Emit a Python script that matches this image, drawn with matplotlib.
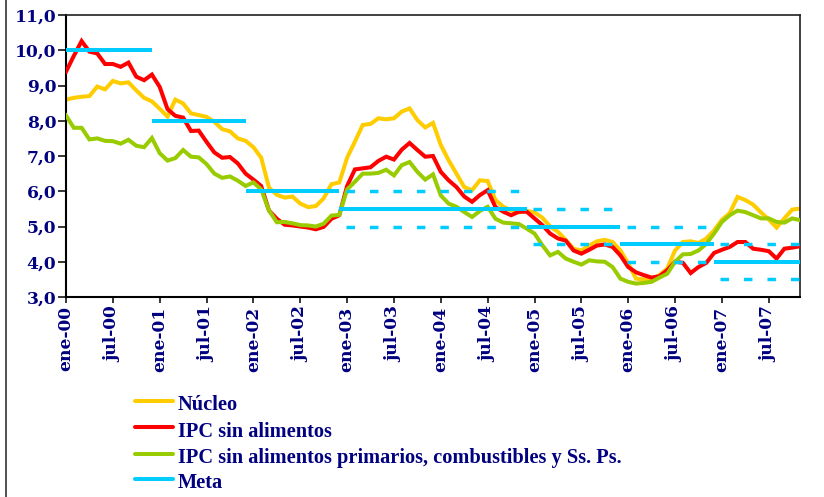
import matplotlib
matplotlib.use("Agg")
import matplotlib.pyplot as plt
from matplotlib.lines import Line2D
import matplotlib.transforms as mtransforms
import numpy as np

# ---------------- data ----------------
month_names = ["ene", "feb", "mar", "abr", "may", "jun",
               "jul", "ago", "sep", "oct", "nov", "dic"]
years_2d = [0, 1, 2, 3, 4, 5, 6, 7]
dates = [f"{m}-{y:02d}" for y in years_2d for m in month_names][:95]

nucleo = [8.60, 8.65, 8.68, 8.70, 8.97, 8.89, 9.13, 9.06, 9.09, 8.86, 8.65, 8.55,
          8.34, 8.12, 8.60, 8.49, 8.21, 8.16, 8.11, 7.97, 7.76, 7.70, 7.50, 7.43,
          7.25, 6.95, 6.10, 5.90, 5.82, 5.85, 5.65, 5.55, 5.58, 5.80, 6.20, 6.25,
          6.95, 7.41, 7.88, 7.91, 8.07, 8.04, 8.07, 8.26, 8.35, 8.02, 7.81, 7.94,
          7.31, 6.88, 6.50, 6.12, 6.03, 6.31, 6.29, 5.75, 5.56, 5.46, 5.40, 5.44,
          5.40, 5.25, 5.00, 4.85, 4.62, 4.37, 4.32, 4.46, 4.58, 4.62, 4.56, 4.32,
          3.95, 3.52, 3.50, 3.52, 3.62, 3.81, 4.32, 4.56, 4.58, 4.53, 4.66, 4.89,
          5.19, 5.38, 5.84, 5.75, 5.62, 5.40, 5.20, 4.97, 5.23, 5.48, 5.51]

ipc_sin_alimentos = [9.39, 9.84, 10.26, 9.96, 9.91, 9.61, 9.61, 9.53, 9.65, 9.25, 9.15, 9.31,
                     8.96, 8.33, 8.14, 8.09, 7.71, 7.72, 7.40, 7.10, 6.95, 6.97, 6.79, 6.50,
                     6.33, 6.15, 5.45, 5.22, 5.05, 5.03, 5.00, 4.97, 4.92, 4.99, 5.22, 5.32,
                     6.15, 6.62, 6.65, 6.68, 6.86, 6.98, 6.90, 7.18, 7.37, 7.17, 6.98, 7.00,
                     6.55, 6.31, 6.12, 5.85, 5.70, 5.89, 6.03, 5.55, 5.42, 5.32, 5.42, 5.42,
                     5.23, 5.04, 4.80, 4.66, 4.60, 4.32, 4.23, 4.34, 4.46, 4.49, 4.42, 4.18,
                     3.85, 3.70, 3.62, 3.55, 3.59, 3.76, 4.00, 3.97, 3.68, 3.85, 3.97, 4.25,
                     4.34, 4.42, 4.56, 4.56, 4.37, 4.34, 4.30, 4.09, 4.37, 4.40, 4.44]

ipc_sin_prim_comb_ssps = [8.15, 7.80, 7.80, 7.47, 7.50, 7.43, 7.42, 7.35, 7.46, 7.29, 7.25, 7.51,
                          7.08, 6.87, 6.94, 7.17, 6.98, 6.96, 6.77, 6.50, 6.38, 6.42, 6.30, 6.15,
                          6.25, 6.05, 5.45, 5.12, 5.13, 5.09, 5.04, 5.03, 5.00, 5.08, 5.31, 5.33,
                          6.05, 6.27, 6.50, 6.50, 6.52, 6.61, 6.45, 6.74, 6.83, 6.55, 6.33, 6.48,
                          5.88, 5.65, 5.56, 5.41, 5.27, 5.44, 5.56, 5.22, 5.11, 5.09, 5.07, 4.94,
                          4.80, 4.47, 4.18, 4.28, 4.09, 4.00, 3.92, 4.04, 4.01, 4.00, 3.85, 3.52,
                          3.43, 3.38, 3.40, 3.43, 3.55, 3.66, 4.00, 4.21, 4.22, 4.32, 4.51, 4.80,
                          5.13, 5.32, 5.45, 5.41, 5.32, 5.23, 5.23, 5.13, 5.11, 5.23, 5.18]

meta_year_idx = [0, 1, 2, 3, 4, 5, 6, 7]          # 2000 ... 2007
meta_value = [10.0, 8.0, 6.0, 5.5, 5.5, 5.0, 4.5, 4.0]
meta_halfwidth = [0.0, 0.0, 0.0, 0.5, 0.5, 0.5, 0.5, 0.5]

legend_labels = ["Núcleo", "IPC sin alimentos",
                 "IPC sin alimentos primarios, combustibles y Ss. Ps.", "Meta"]

# ---------------- style ----------------
C_YEL = "#FFCC00"
C_RED = "#FF0000"
C_GRN = "#99CC00"
C_CYA = "#00CCFF"
NAVY = "#000080"
plt.rcParams["lines.scale_dashes"] = False

W, H = 824, 497
fig = plt.figure(figsize=(W / 100, H / 100), dpi=100)
ax = fig.add_axes([66 / W, 1 - 297 / H, (800 - 66) / W, (297 - 15) / H])

x = np.arange(len(dates))
n_last = len(dates) - 1
LW = 2.9

ax.plot(x, nucleo, color=C_YEL, lw=LW, zorder=2, solid_joinstyle="miter")
ax.plot(x, ipc_sin_alimentos, color=C_RED, lw=LW, zorder=3, solid_joinstyle="miter")
ax.plot(x, ipc_sin_prim_comb_ssps, color=C_GRN, lw=LW, zorder=4, solid_joinstyle="miter")

# meta: solid target lines (one per year, from previous december to december)
for k, v in zip(meta_year_idx, meta_value):
    s = max(0, 12 * k - 1)
    e = min(12 * k + 11, n_last)
    ax.plot([x[s], x[e]], [v, v], color=C_CYA, lw=LW, zorder=5, solid_capstyle="butt")

# meta: dashed bands, merging consecutive years with the same range
groups = []
for k, v, h in zip(meta_year_idx, meta_value, meta_halfwidth):
    if h <= 0:
        continue
    if groups and groups[-1][2] == v and groups[-1][3] == h and groups[-1][1] == k - 1:
        groups[-1][1] = k
    else:
        groups.append([k, k, v, h])
for k0, k1, v, h in groups:
    s = 12 * k0 - 0.2
    e = min(12 * k1 + 10.5, n_last)
    for lvl in (v + h, v - h):
        ax.plot([s, e], [lvl, lvl], color=C_CYA, lw=2.5, zorder=5,
                linestyle=(0, (6.1, 10.8)), dash_capstyle="butt")

ax.set_xlim(0, n_last)
ax.set_ylim(3, 11)
yt = np.arange(3, 12, 1.0)
ax.set_yticks(yt)
ax.set_yticklabels([f"{t:.1f}".replace(".", ",") for t in yt])
ax.set_xticks(x[::6])
ax.set_xticklabels(dates[::6], rotation=90)

tick_font = dict(family="DejaVu Serif", weight="bold", size=12.3)
shift = mtransforms.ScaledTranslation(2 / 100, 0, fig.dpi_scale_trans)
for lab in ax.get_yticklabels() + ax.get_xticklabels():
    lab.set_fontfamily(tick_font["family"])
    lab.set_fontweight(tick_font["weight"])
    lab.set_fontsize(tick_font["size"])
    lab.set_color(NAVY)
for lab in ax.get_xticklabels():
    lab.set_transform(lab.get_transform() + shift)

ax.tick_params(axis="y", direction="out", length=5.5, width=1.1, pad=1.5, colors="black",
               labelcolor=NAVY)
ax.tick_params(axis="x", direction="out", length=4.3, width=1.1, pad=2.5, colors="black",
               labelcolor=NAVY)
for side in ("left", "bottom"):
    ax.spines[side].set_linewidth(1.5)
    ax.spines[side].set_color("black")
for side in ("top", "right"):
    ax.spines[side].set_linewidth(1.2)
    ax.spines[side].set_color("#202020")

# ---------------- legend (manual) ----------------
leg_colors = [C_YEL, C_RED, C_GRN, C_CYA]
line_y = [400.7, 427.3, 454.0, 479.0]
base_y = [410.0, 436.7, 463.3, 488.3]
for lab, col, ly, by in zip(legend_labels, leg_colors, line_y, base_y):
    fig.add_artist(Line2D([135 / W, 173 / W], [1 - ly / H, 1 - ly / H],
                          transform=fig.transFigure, color=col, lw=2.9,
                          solid_capstyle="round"))
    fig.text(178 / W, 1 - by / H, lab, family="Liberation Serif", weight="bold",
             fontsize=14.7, color=NAVY, va="baseline", ha="left")

# outer frame line on the left edge
fig.add_artist(Line2D([5.5 / W, 5.5 / W], [0, 1], transform=fig.transFigure,
                      color="#505050", lw=1.4))

fig.savefig("out.png", dpi=100)
